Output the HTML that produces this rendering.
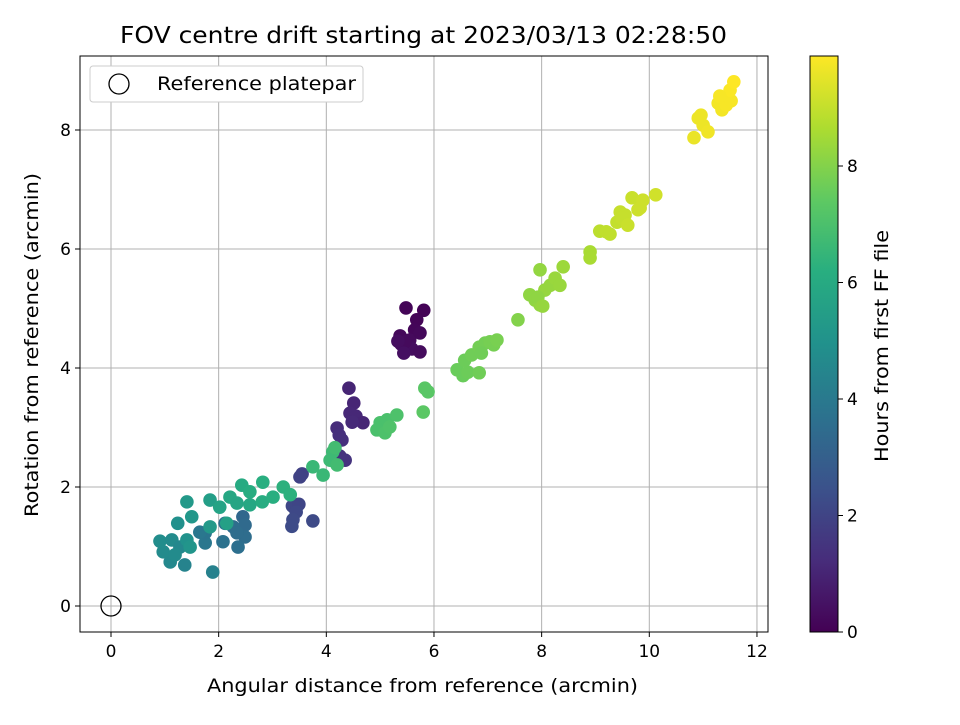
<!DOCTYPE html>
<html><head><meta charset="utf-8"><style>
body{margin:0;background:#fff;font-family:"Liberation Sans","DejaVu Sans",sans-serif}
svg text{font-family:"DejaVu Sans","Liberation Sans",sans-serif}
</style></head><body>
<svg id="chart" width="960" height="720" xmlns="http://www.w3.org/2000/svg">
<defs><linearGradient id="vir" x1="0" y1="1" x2="0" y2="0">
<stop offset="0" stop-color="#440154"/><stop offset="0.125" stop-color="#472d7b"/><stop offset="0.25" stop-color="#3b528b"/><stop offset="0.375" stop-color="#2c728e"/><stop offset="0.5" stop-color="#21918c"/><stop offset="0.625" stop-color="#28ae80"/><stop offset="0.75" stop-color="#5ec962"/><stop offset="0.875" stop-color="#addc30"/><stop offset="1" stop-color="#fde725"/></linearGradient></defs>
<text x="120" y="43" font-size="23" textLength="607" lengthAdjust="spacingAndGlyphs">FOV centre drift starting at 2023/03/13 02:28:50</text>
<g id="grid"></g><g id="marks"></g>
<rect x="80" y="56" width="688" height="576" fill="none" stroke="#000" stroke-width="1"/>
<g id="ticks"></g>
<text x="207" y="692" font-size="19" textLength="431" lengthAdjust="spacingAndGlyphs">Angular distance from reference (arcmin)</text>
<text transform="translate(38,517) rotate(-90)" font-size="19" textLength="344" lengthAdjust="spacingAndGlyphs">Rotation from reference (arcmin)</text>
<g>
<rect x="90" y="66" width="273" height="36" rx="3" fill="#fff" stroke="#ccc"/>
<circle cx="119" cy="84" r="10" fill="none" stroke="#000" stroke-width="1.3"/>
<text x="157" y="90" font-size="19" textLength="199" lengthAdjust="spacingAndGlyphs">Reference platepar</text>
</g>
<rect x="810" y="56" width="28" height="576" fill="url(#vir)" stroke="#000" stroke-width="1"/>
<g id="cbticks"></g>
<text transform="translate(888,462) rotate(-90)" font-size="19" textLength="232" lengthAdjust="spacingAndGlyphs">Hours from first FF file</text>
</svg>
<script>
const xs=[5.48,5.81,5.68,5.64,5.37,5.55,5.74,5.39,5.59,5.74,5.46,5.33,5.44,
4.42,4.51,4.44,4.55,4.68,4.48,4.20,4.24,4.29,4.25,4.35,
3.55,3.51,3.37,3.49,3.44,3.38,3.36,3.75,
2.45,2.49,2.49,2.36,2.08,2.12,2.27,2.34,1.75,1.75,1.65,1.89,1.37,1.10,0.97,0.91,1.13,1.28,1.19,1.41,1.47,
1.24,1.41,1.50,1.84,1.84,2.02,2.15,2.21,2.43,2.34,2.58,2.58,2.82,2.81,3.01,3.20,3.33,
3.75,3.94,4.12,4.07,4.20,4.16,
5.00,5.13,5.31,4.94,5.09,5.18,5.83,5.89,5.80,
6.43,6.54,6.63,6.57,6.70,6.84,6.95,7.04,7.11,6.88,6.84,7.17,7.56,
7.78,7.88,7.97,8.06,8.16,8.25,8.34,8.40,7.97,7.93,8.02,8.90,8.90,
9.08,9.20,9.27,9.40,9.46,9.55,9.49,9.60,9.68,9.83,9.88,10.12,9.79,
10.83,10.91,10.96,11.00,11.09,11.28,11.35,11.43,11.46,11.52,11.50,11.57,11.31];
const ys=[5.01,4.97,4.81,4.64,4.54,4.47,4.59,4.40,4.32,4.27,4.44,4.45,4.25,
3.66,3.41,3.24,3.19,3.08,3.09,2.99,2.87,2.79,2.52,2.45,
2.22,2.17,1.68,1.71,1.58,1.45,1.34,1.43,
1.50,1.36,1.16,0.99,1.08,1.39,1.33,1.23,1.06,1.23,1.24,0.57,0.69,0.74,0.91,1.09,1.11,0.99,0.86,1.11,0.99,
1.39,1.75,1.50,1.78,1.33,1.66,1.39,1.83,2.03,1.73,1.92,1.70,2.08,1.75,1.83,2.00,1.87,
2.34,2.20,2.59,2.45,2.37,2.66,
3.08,3.13,3.21,2.96,2.91,3.01,3.66,3.60,3.26,
3.97,3.87,3.93,4.13,4.22,4.35,4.42,4.44,4.39,4.25,3.92,4.47,4.81,
5.23,5.14,5.06,5.31,5.39,5.51,5.39,5.70,5.65,5.19,5.04,5.95,5.85,
6.30,6.29,6.25,6.45,6.62,6.57,6.52,6.40,6.86,6.69,6.82,6.91,6.66,
7.87,8.20,8.25,8.08,7.97,8.45,8.34,8.42,8.57,8.49,8.67,8.81,8.57];
const hours=[0.1,0.05,0.1,0.15,0.2,0.25,0.2,0.3,0.35,0.3,0.25,0.35,0.4,
1.0,1.05,1.1,1.1,1.05,1.15,1.25,1.3,1.35,1.4,1.45,
1.9,1.95,2.1,2.05,2.15,2.2,2.25,2.2,
3.3,3.4,3.5,3.6,3.7,3.6,3.5,3.5,3.9,3.8,3.9,4.3,4.4,4.6,4.7,4.8,4.7,4.6,4.7,5.0,5.1,
4.9,5.3,5.2,5.5,5.3,5.7,5.6,5.9,6.0,5.8,6.1,5.9,6.2,6.1,6.2,6.3,6.3,
6.6,6.6,6.7,6.7,6.8,6.8,
7.0,7.0,7.05,7.0,7.05,7.1,7.3,7.3,7.35,
7.6,7.6,7.65,7.65,7.7,7.75,7.75,7.8,7.8,7.7,7.7,7.85,8.0,
8.2,8.2,8.25,8.3,8.3,8.35,8.35,8.4,8.25,8.2,8.3,8.6,8.6,
8.9,8.95,8.95,9.0,9.05,9.05,9.05,9.1,9.1,9.15,9.15,9.2,9.15,
9.6,9.65,9.65,9.65,9.7,9.75,9.75,9.8,9.8,9.8,9.85,9.9,9.8];
const xTicks=[0,2,4,6,8,10,12];
const yTicks=[0,2,4,6,8];
const cTicks=[0,2,4,6,8];
const X=v=>111+v*53.83, Y=v=>606-v*59.5, C=v=>632-v*58.25;
const vir=[[68,1,84],[71,45,123],[59,82,139],[44,114,142],[33,145,140],[40,174,128],[94,201,98],[173,220,48],[253,231,37]];
function col(h){let t=Math.max(0,Math.min(1,h/9.9))*8,i=Math.min(7,Math.floor(t)),f=t-i;
return 'rgb('+vir[i].map((a,k)=>Math.round(a+(vir[i+1][k]-a)*f)).join(',')+')';}
const NS='http://www.w3.org/2000/svg';
const mk=(t,a,p)=>{const e=document.createElementNS(NS,t);for(const k in a)e.setAttribute(k,a[k]);p.appendChild(e);return e;};
const G=document.getElementById('grid'),T=document.getElementById('ticks'),M=document.getElementById('marks'),CB=document.getElementById('cbticks');
xTicks.forEach(v=>{const x=X(v);
const g=mk('line',{x1:x,x2:x,y1:56,y2:632,stroke:'#b0b0b0','stroke-width':1},G);


const l=mk('line',{x1:x,x2:x,y1:632,y2:637,stroke:'#000'},T);


const t=mk('text',{x:x,y:657,'font-size':17,'text-anchor':'middle'},T);t.textContent=v;

});
yTicks.forEach(v=>{const y=Y(v);
const g=mk('line',{x1:80,x2:768,y1:y,y2:y,stroke:'#b0b0b0','stroke-width':1},G);


const l=mk('line',{x1:75,x2:80,y1:y,y2:y,stroke:'#000'},T);


const t=mk('text',{x:71,y:y+6,'font-size':17,'text-anchor':'end'},T);t.textContent=v;

});
cTicks.forEach(v=>{const y=C(v);
const l=mk('line',{x1:838,x2:843,y1:y,y2:y,stroke:'#000'},CB);


const t=mk('text',{x:847,y:y+6,'font-size':17},CB);t.textContent=v;

});
xs.forEach((v,i)=>{const c=mk('circle',{cx:X(v),cy:Y(ys[i]),r:6.8,fill:col(hours[i])},M);

});
const r=mk('circle',{cx:X(0),cy:Y(0),r:10,fill:'none',stroke:'#000','stroke-width':1.3},M);


</script>
</body></html>
